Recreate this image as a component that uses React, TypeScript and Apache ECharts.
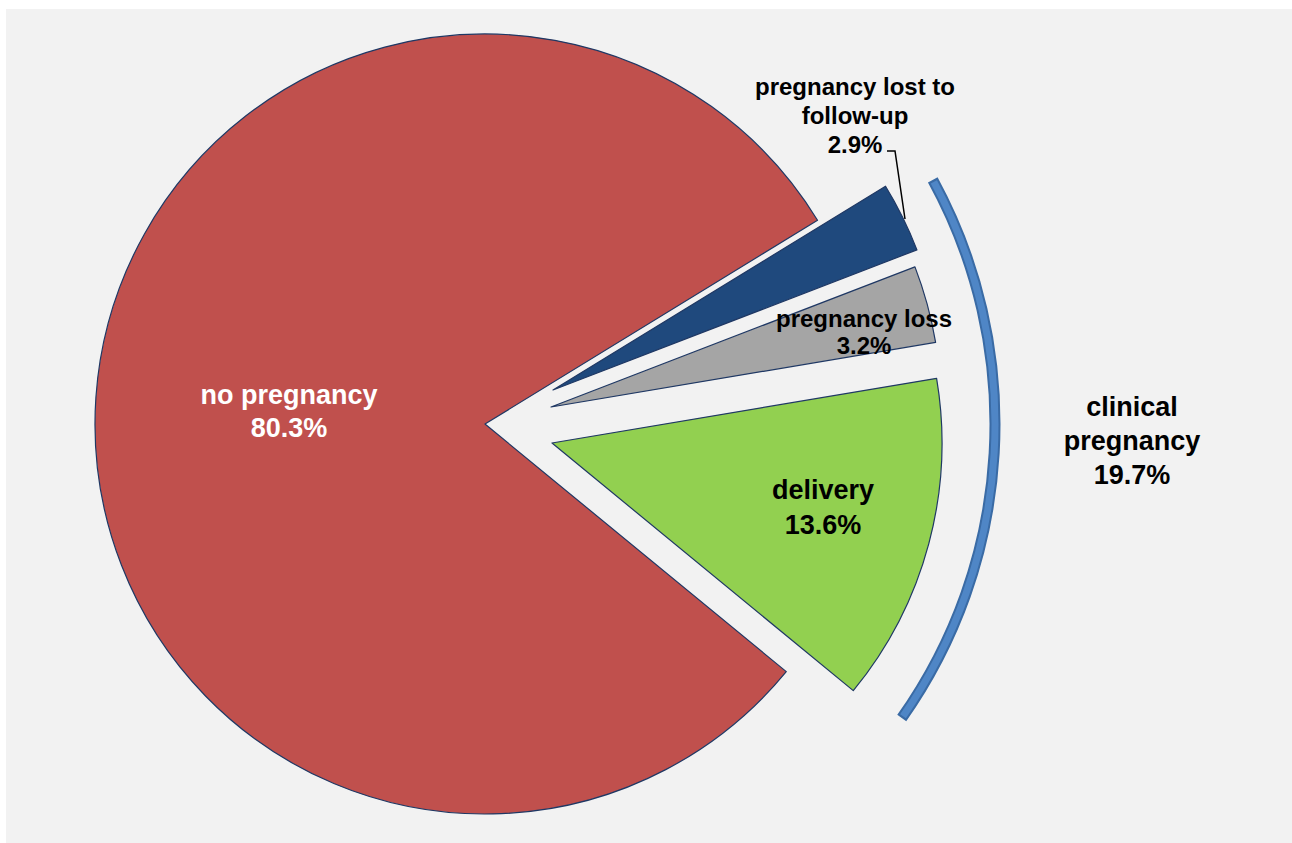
import React, { useEffect, useRef } from 'react';
import * as echarts from 'echarts';

// ---- data ----
const categories = ['pregnancy lost to\nfollow-up', 'pregnancy loss', 'delivery', 'no pregnancy'];
const shares = [2.9, 3.2, 13.6, 80.3];
const groupLabel = 'clinical\npregnancy';
const groupShare = 19.7;

// ---- styling / layout ----
const sliceColors = ['#1F497D', '#A5A5A5', '#92D050', '#C0504D'];
const labelColors = ['#000000', '#000000', '#000000', '#FFFFFF'];
const labelSizes = [24, 24, 27, 27];
const labelLineHeights = [29, 27, 35, 33];
const labelSpots: number[][] = [[849, 106], [858, 323], [817, 498], [283, 402]];
// explosion offset of each slice (pixels, dx/dy)
const explodeShift: number[][] = [[68, -34], [66, -17], [67, 19], [0, 0]];
const FONT = '"Liberation Sans", Arial, Helvetica, sans-serif';
const BORDER = '#1F3864';
const HIDDEN = 'rgba(0,0,0,0)';

export default function App() {
  const ref = useRef<HTMLDivElement>(null);
  useEffect(() => {
    if (!ref.current) return;
    const chart = echarts.init(ref.current, undefined, { renderer: 'svg' });
    const cx = 479;
    const cy = 415;

    const series = categories.map((_, i) => ({
      type: 'pie',
      center: [cx + explodeShift[i][0], cy + explodeShift[i][1]],
      radius: 390,
      startAngle: 31.5,
      clockwise: true,
      avoidLabelOverlap: false,
      silent: true,
      emphasis: { disabled: true, scale: false },
      z: 2,
      label: {
        formatter: (p: any) => `${p.name}\n${Number(p.value).toFixed(1)}%`,
      },
      labelLayout: (p: any) => {
        if (p.dataIndex !== i) return {};
        const s = labelSpots[i];
        const out: any = { x: s[0], y: s[1], align: 'center', verticalAlign: 'middle' };
        if (i === 0) out.labelLinePoints = [[881, 142], [889, 142], [899, 210]];
        return out;
      },
      data: categories.map((name, j) => {
        const visible = j === i;
        return {
          name,
          value: shares[j],
          itemStyle: visible
            ? { color: sliceColors[j], borderColor: BORDER, borderWidth: 1.2 }
            : { color: HIDDEN, borderColor: HIDDEN, borderWidth: 0 },
          label: {
            show: visible,
            position: j === 0 ? 'outside' : 'inside',
            color: labelColors[j],
            fontSize: labelSizes[j],
            fontWeight: 'bold',
            fontFamily: FONT,
            lineHeight: labelLineHeights[j],
            align: 'center',
          },
          labelLine: visible && j === 0
            ? { show: true, length: 20, length2: 8, lineStyle: { color: '#000', width: 1.5 } }
            : { show: false },
        };
      }),
    }));

    chart.setOption({
      animation: false,
      backgroundColor: '#F2F2F2',
      series,
      graphic: [
        {
          type: 'arc',
          silent: true,
          shape: { cx, cy, r: 510, startAngle: (-28.6 * Math.PI) / 180, endAngle: (35.2 * Math.PI) / 180, clockwise: true },
          style: { stroke: '#3A6BA5', lineWidth: 11, fill: 'none', lineCap: 'butt' },
        },
        {
          type: 'arc',
          silent: true,
          shape: { cx, cy, r: 510, startAngle: (-28.35 * Math.PI) / 180, endAngle: (34.95 * Math.PI) / 180, clockwise: true },
          style: { stroke: '#4F86C6', lineWidth: 7, fill: 'none', lineCap: 'butt' },
        },
        {
          type: 'text',
          silent: true,
          x: 1126,
          y: 432,
          style: {
            text: `${groupLabel}\n${groupShare.toFixed(1)}%`,
            fill: '#000',
            fontSize: 27,
            fontWeight: 'bold',
            fontFamily: FONT,
            lineHeight: 34,
            align: 'center',
            verticalAlign: 'middle',
          },
        },
      ],
    });
    return () => chart.dispose();
  }, []);
  return (
    <div
      ref={ref}
      style={{ position: 'absolute', left: 6, top: 9, width: 1286, height: 834 }}
    />
  );
}
